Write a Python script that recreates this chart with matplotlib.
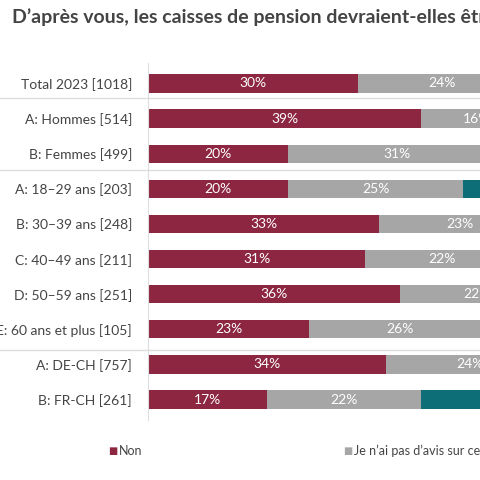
import matplotlib
matplotlib.use("Agg")
import matplotlib.pyplot as plt

labels = ["Total 2023 [1018]", "A: Hommes [514]", "B: Femmes [499]",
          "A: 18–29 ans [203]", "B: 30–39 ans [248]", "C: 40–49 ans [211]",
          "D: 50–59 ans [251]", "E: 60 ans et plus [105]",
          "A: DE-CH [757]", "B: FR-CH [261]"]
non = [30, 39, 20, 20, 33, 31, 36, 23, 34, 17]
sans_avis = [24, 16, 31, 25, 23, 22, 22, 26, 24, 22]
oui = [46, 45, 49, 55, 44, 47, 42, 51, 42, 61]

RED, GREY, TEAL = "#8c2641", "#a6a6a6", "#0d6e78"
plt.rcParams["font.family"] = ["Source Sans Pro", "Lato", "DejaVu Sans"]

fig = plt.figure(figsize=(4.8, 4.8), dpi=100)
px = 7.0  # pixels per percent
ax = fig.add_axes([148 / 480, 1 - 420 / 480, 100 * px / 480, 357 / 480])
ax.set_xlim(0, 100)
ax.set_ylim(len(labels) - 0.5 + 0.08, -0.5 - 0.08)

y = range(len(labels))
for vals, left, col in [(non, [0] * 10, RED),
                        (sans_avis, non, GREY),
                        (oui, [a + b for a, b in zip(non, sans_avis)], TEAL)]:
    ax.barh(y, vals, left=left, height=0.52, color=col)
    for i, (v, l) in enumerate(zip(vals, left)):
        ax.text(l + v / 2, i, f"{v}%", ha="center", va="center",
                color="white", fontsize=10)

ax.set_yticks(list(y))
ax.set_yticklabels(labels, fontsize=10, color="#444444")
ax.tick_params(left=False, bottom=False, labelbottom=False, pad=8)
for s in ["top", "right", "bottom"]:
    ax.spines[s].set_visible(False)
ax.spines["left"].set_color("#dddddd")

for yy in (98, 170, 350):
    fig.add_artist(plt.Line2D([0, 1], [1 - yy / 480] * 2, color="#dddddd", lw=1))

fig.text(12 / 480, 1 - 17 / 480,
         "D’après vous, les caisses de pension devraient-elles être plus actives ?",
         fontsize=14, fontweight="bold", color="#444444", va="center")

for xx, col, txt in [(108, RED, "Non"), (343, GREY, "Je n’ai pas d’avis sur cette question"),
                     (700, TEAL, "Oui")]:
    fig.text(xx / 480, 1 - 451 / 480, "■", color=col, fontsize=7, va="center",
             family="DejaVu Sans")
    fig.text((xx + 11) / 480, 1 - 451 / 480, txt, color="#444444", fontsize=9,
             va="center")

fig.savefig("out.png", dpi=100, facecolor="white")
